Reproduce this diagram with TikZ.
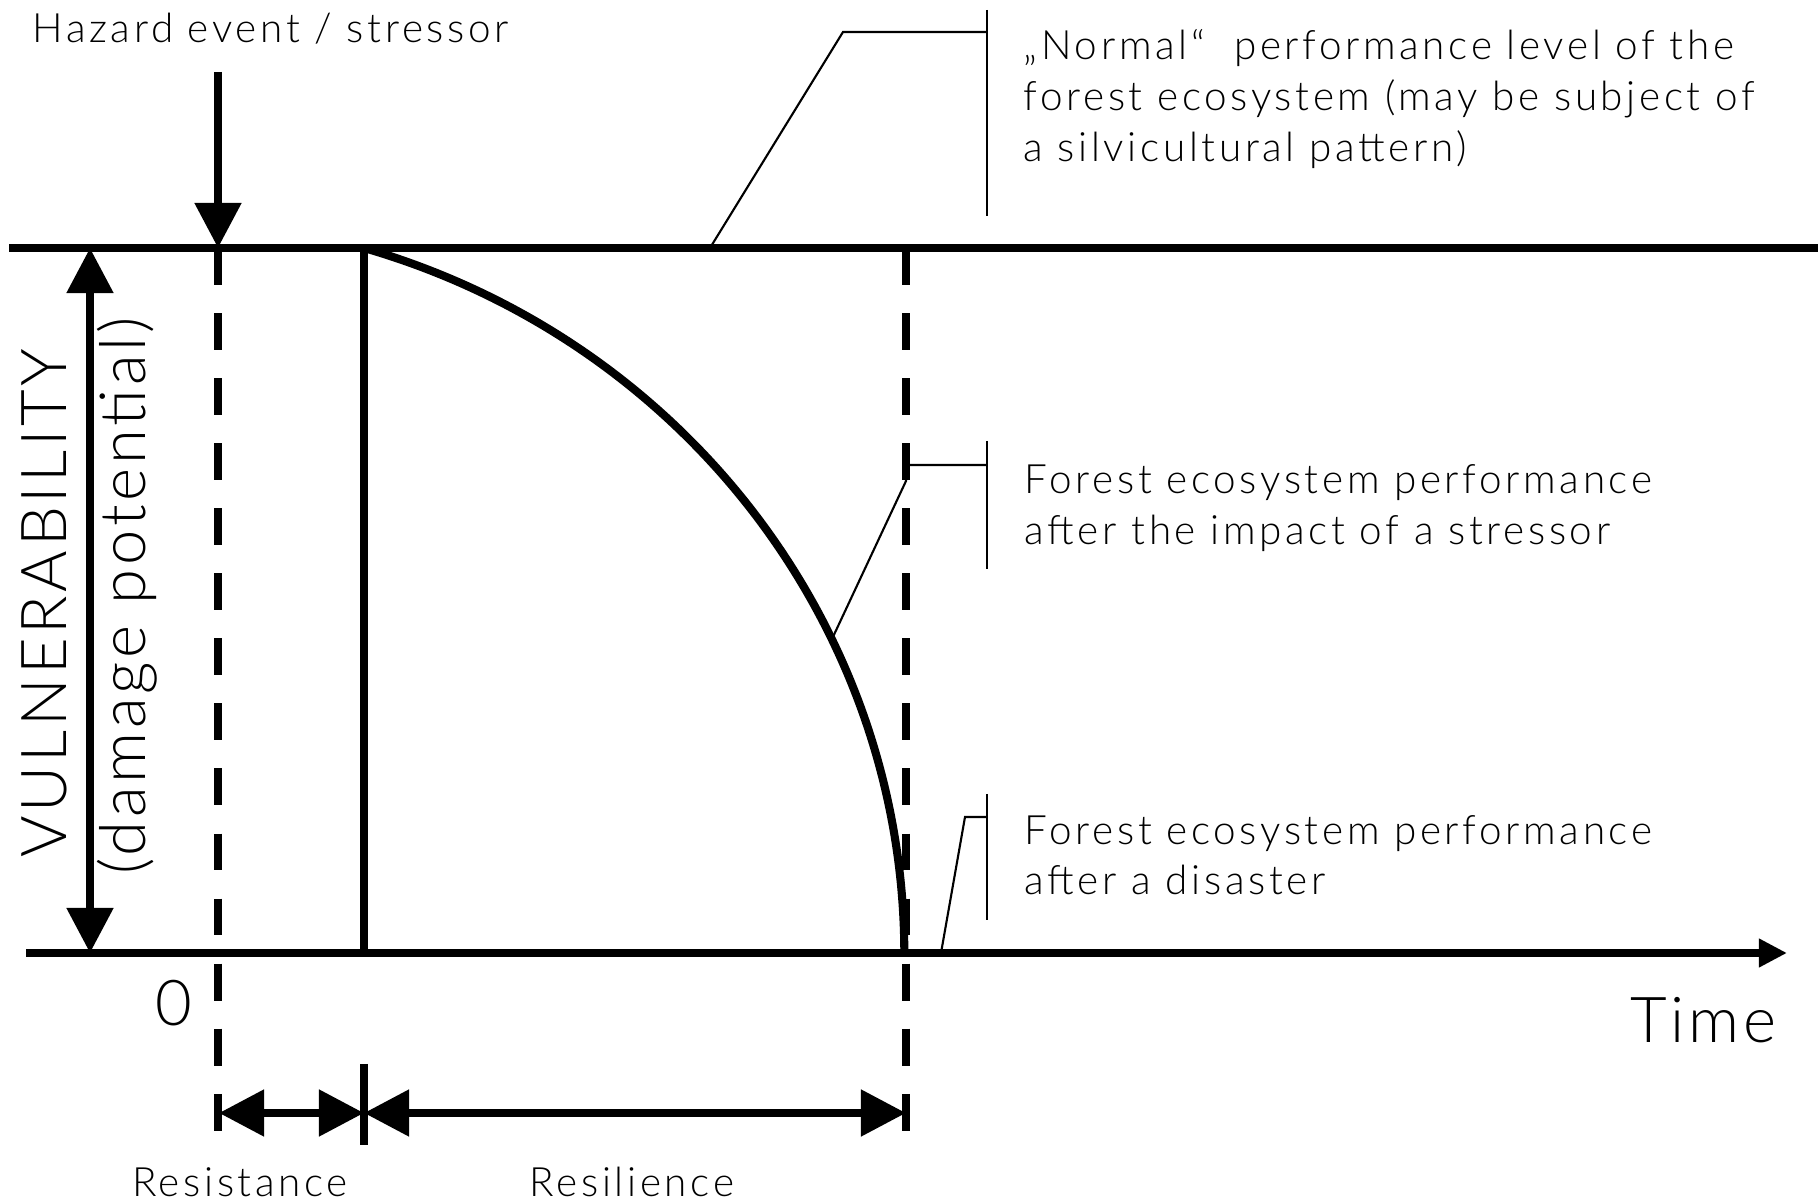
\documentclass[tikz,border=0pt]{standalone}
\usepackage{fontspec}
\IfFontExistsTF{Lato Light}{%
  \setmainfont{Lato Light}[LetterSpace=9]%
  \newfontfamily\bigfont{Lato Light}[LetterSpace=6]}{%
  \setmainfont{Liberation Sans}%
  \newfontfamily\bigfont{Liberation Sans}}
\usetikzlibrary{arrows.meta}
\begin{document}
\begin{tikzpicture}[x=0.01cm,y=-0.01cm,
  heavy/.style={line width=2.3pt},
  dashline/.style={line width=2.3pt, dash pattern=on 10.5pt off 8pt},
  leader/.style={line width=0.6pt},
  bigtip/.style={-{Triangle[length=12.8pt,width=12.8pt]}},
  bigtips/.style={{Triangle[length=12.8pt,width=12.8pt]}-{Triangle[length=12.8pt,width=12.8pt]}},
  small/.style={font=\fontsize{11.5}{13}\selectfont, inner sep=0pt},
  large/.style={font=\bigfont\fontsize{18}{20}\selectfont, inner sep=0pt}]
\fill[white] (0,0) rectangle (1818,1201);
\useasboundingbox (0,0) rectangle (1818,1201);

% coordinates
\coordinate (topL) at (9,248);
\coordinate (topR) at (1818,248);
\coordinate (axL) at (26,953);
\coordinate (axR) at (1787,953);
\coordinate (hzS) at (218,72);
\coordinate (hzE) at (218,248);
\coordinate (d1T) at (218,248);
\coordinate (d1B) at (218,1134);
\coordinate (d2T) at (906,248);
\coordinate (d2B) at (906,1134);
\coordinate (vT) at (90,248);
\coordinate (vB) at (90,953);
\coordinate (sT) at (364,248);
\coordinate (sB) at (364,953);
\coordinate (rsA) at (219,1113);
\coordinate (rsB) at (364,1113);
\coordinate (rlB) at (906,1113);
\coordinate (tkT) at (364,1064);
\coordinate (tkB) at (364,1145);

% leader coordinates
\coordinate (nA) at (710,248);
\coordinate (nB) at (843,32);
\coordinate (nC) at (987,32);
\coordinate (nT) at (987,10);
\coordinate (nU) at (987,216);
\coordinate (iA) at (832,639);
\coordinate (iB) at (906,481);
\coordinate (iC) at (906,465);
\coordinate (iD) at (987,465);
\coordinate (iT) at (987,441);
\coordinate (iU) at (987,569);
\coordinate (xA) at (941,953);
\coordinate (xB) at (965,817);
\coordinate (xC) at (987,817);
\coordinate (xT) at (987,794);
\coordinate (xU) at (987,920);

% main lines
\draw[heavy] (topL) -- (topR);
\draw[heavy, -{Triangle[length=8pt,width=7.7pt]}] (axL) -- (axR);
\draw[dashline] (d1T) -- (d1B);
\draw[dashline] (d2T) -- (d2B);
\draw[heavy] (sT) -- (sB);
\draw[heavy] (sT) arc[start angle=73.51, end angle=0, x radius=7.54cm, y radius=7.36cm];
\draw[heavy, bigtip] (hzS) -- (hzE);
\draw[heavy, bigtips] (vT) -- (vB);
\draw[heavy, bigtips] (rsA) -- (rsB);
\draw[heavy, bigtips] (rsB) -- (rlB);
\draw[line width=2pt] (tkT) -- (tkB);

% leaders
\draw[leader] (nA) -- (nB) -- (nC);
\draw[leader] (nT) -- (nU);
\draw[leader] (iA) -- (iB) -- (iC) -- (iD);
\draw[leader] (iT) -- (iU);
\draw[leader] (xA) -- (xB) -- (xC);
\draw[leader] (xT) -- (xU);

% texts
\node[small, anchor=base west] (haz) at (32,43) {Hazard event / stressor};
\node[small, anchor=base west] (n1) at (1023,60) {„Normal“~ performance level of the};
\node[small, anchor=base west] (n2) at (1023,111) {forest ecosystem (may be subject of};
\node[small, anchor=base west] (n3) at (1023,162) {a silvicultural pattern)};
\node[small, anchor=base west] (i1) at (1024,494) {Forest ecosystem performance};
\node[small, anchor=base west] (i2) at (1024,545) {after the impact of a stressor};
\node[small, anchor=base west] (x1) at (1024,845) {Forest ecosystem performance};
\node[small, anchor=base west] (x2) at (1024,895) {after a disaster};
\node[small, anchor=base] (rst) at (240,1196) {Resistance};
\node[small, anchor=base] (rsl) at (632,1196) {Resilience};
\node[large, anchor=base] (zero) at (174,1025) {0};
\node[large, anchor=base east] (time) at (1777,1042) {Time};
\node[large, rotate=90, anchor=base] (vul) at (67,603) {VULNERABILITY};
\node[large, rotate=90, anchor=base] (dmg) at (145,596) {(damage potential)};
\end{tikzpicture}
\end{document}
